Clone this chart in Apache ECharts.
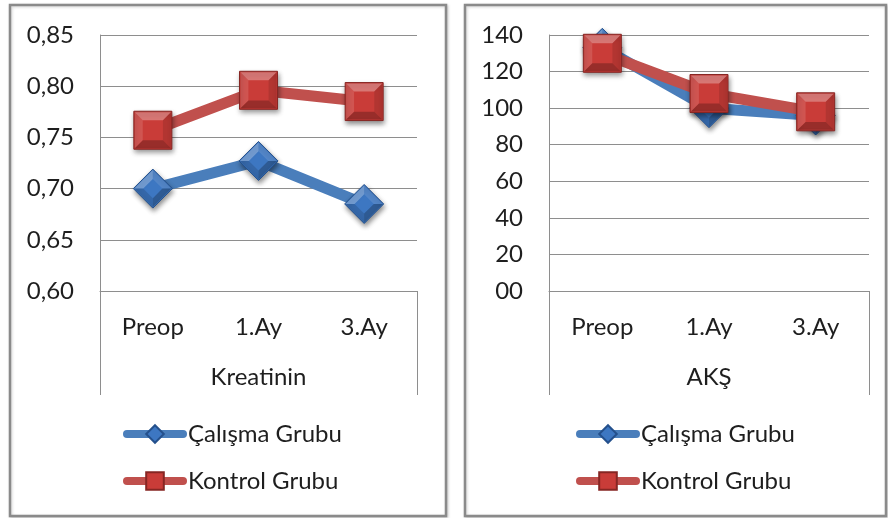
<!DOCTYPE html>
<html>
<head>
<meta charset="utf-8">
<script src="https://cdn.jsdelivr.net/npm/echarts@6/dist/echarts.min.js"></script>
<style>
  html, body { margin: 0; padding: 0; background: #ffffff; }
  #chart { width: 888px; height: 518px; }
</style>
</head>
<body>
<div id="chart"></div>
<script>
// Categories and group names
const categories = ['Preop', '1.Ay', '3.Ay'];
const groupNames = ['Çalışma Grubu', 'Kontrol Grubu'];

// Kreatinin values
const kreatininCalisma = [0.700, 0.727, 0.685];
const kreatininKontrol = [0.757, 0.796, 0.785];

// AKŞ values
const aksCalisma = [133, 100, 96];
const aksKontrol = [130, 108, 98];

// Axis titles and tick labels
const panelTitles = ['Kreatinin', 'AKŞ'];
const kreatininTicks = ['0,60', '0,65', '0,70', '0,75', '0,80', '0,85'];
const aksTicks = ['00', '20', '40', '60', '80', '100', '120', '140'];

const FONT = 'Lato';
const FONT_SIZE = 24;
const TEXT = '#1e1e1e';
const GRID_LINE = '#8e8e8e';

const BLUE_LINE = '#4a7ebb';
const RED_LINE = '#c0504d';

// Bevel facets (each path padded to the full 0..100 box so it scales like the base symbol)
const PAD = ' M0,100 L100,100 L0,100 Z M100,0 L100,0 Z';
const squareFacets = [
  { path: 'path://M0,0 L100,0 L78,22 L22,22 Z' + PAD, color: 'rgba(255,255,255,0.38)' },
  { path: 'path://M0,0 L22,22 L22,78 L0,100 Z' + PAD, color: 'rgba(255,255,255,0.16)' },
  { path: 'path://M100,0 L100,100 L78,78 L78,22 Z' + PAD, color: 'rgba(0,0,0,0.14)' },
  { path: 'path://M0,100 L22,78 L78,78 L100,100 Z' + PAD, color: 'rgba(0,0,0,0.30)' }
];
const diamondFacets = [
  { path: 'path://M0,50 L50,0 L50,24 L24,50 Z' + PAD, color: 'rgba(255,255,255,0.34)' },
  { path: 'path://M50,0 L100,50 L76,50 L50,24 Z' + PAD, color: 'rgba(255,255,255,0.14)' },
  { path: 'path://M100,50 L50,100 L50,76 L76,50 Z' + PAD, color: 'rgba(0,0,0,0.30)' },
  { path: 'path://M50,100 L0,50 L24,50 L50,76 Z' + PAD, color: 'rgba(0,0,0,0.16)' }
];

const groupStyles = [
  { line: BLUE_LINE, fill: '#3d77c2', border: '#24508c', symbol: 'diamond', size: 39, facets: diamondFacets },
  { line: RED_LINE, fill: '#c93c38', border: '#862623', symbol: 'rect', size: 38, facets: squareFacets }
];

const panels = [
  { values: [kreatininCalisma, kreatininKontrol], ticks: kreatininTicks, min: 0.60, max: 0.85, interval: 0.05 },
  { values: [aksCalisma, aksKontrol], ticks: aksTicks, min: 0, max: 140, interval: 20 }
];

const gridBoxes = [
  { left: 100, top: 35, width: 317, height: 256 },
  { left: 549, top: 35, width: 320, height: 256 }
];

const xAxes = [];
const yAxes = [];
const series = [];

panels.forEach(function (panel, p) {
  // inner category axis
  xAxes.push({
    type: 'category', gridIndex: p, data: categories, boundaryGap: true,
    axisLine: { show: true, lineStyle: { color: GRID_LINE, width: 1 } },
    axisTick: { show: false },
    axisLabel: { color: TEXT, fontFamily: FONT, fontSize: FONT_SIZE, lineHeight: 24, margin: 24 }
  });
  // outer category level carrying the panel title and its divider lines
  xAxes.push({
    type: 'category', gridIndex: p, data: [panelTitles[p]], boundaryGap: true, position: 'bottom',
    axisLine: { show: false },
    axisTick: { show: true, alignWithLabel: false, length: 104, lineStyle: { color: GRID_LINE, width: 1 } },
    axisLabel: { color: TEXT, fontFamily: FONT, fontSize: FONT_SIZE, lineHeight: 24, margin: 74 }
  });
  yAxes.push({
    type: 'value', gridIndex: p, min: panel.min, max: panel.max, interval: panel.interval,
    axisLine: { show: true, lineStyle: { color: GRID_LINE, width: 1 } },
    axisTick: { show: false },
    splitLine: { show: true, lineStyle: { color: GRID_LINE, width: 1 } },
    axisLabel: {
      color: TEXT, fontFamily: FONT, fontSize: FONT_SIZE, margin: 26,
      formatter: function (v, i) { return panel.ticks[i]; }
    }
  });

  panel.values.forEach(function (vals, g) {
    const st = groupStyles[g];
    const baseZ = 2 + g * 2;
    series.push({
      name: groupNames[g], type: 'line', xAxisIndex: p * 2, yAxisIndex: p,
      data: vals, z: baseZ,
      symbol: st.symbol, symbolSize: st.size,
      lineStyle: { color: st.line, width: 11, cap: 'round', join: 'round' },
      itemStyle: {
        color: st.fill, borderColor: st.border, borderWidth: 1,
        shadowColor: 'rgba(0,0,0,0.45)', shadowBlur: 5, shadowOffsetX: 1, shadowOffsetY: 3
      },
      emphasis: { disabled: true },
      animation: false
    });
    st.facets.forEach(function (f, k) {
      series.push({
        name: groupNames[g] + ' facet ' + k, type: 'scatter', xAxisIndex: p * 2, yAxisIndex: p,
        data: vals, z: baseZ + 1,
        symbol: f.path, symbolSize: st.size - 2,
        itemStyle: { color: f.color, borderWidth: 0 },
        emphasis: { disabled: true }, silent: true, animation: false
      });
    });
  });
});

const legends = [
  { left: 118, top: 417 },
  { left: 571, top: 417 }
].map(function (pos) {
  return {
    data: groupNames, orient: 'vertical', left: pos.left, top: pos.top,
    itemWidth: 56, itemHeight: 22, itemGap: 23,
    lineStyle: { width: 8, cap: 'round' },
    textStyle: { color: TEXT, fontFamily: FONT, fontSize: FONT_SIZE, lineHeight: 22 },
    selectedMode: false
  };
});

// Panel frames
const frames = [
  { x: 10, y: 5, width: 436, height: 511 },
  { x: 465, y: 5, width: 421, height: 511 }
].map(function (r) {
  return {
    type: 'rect', shape: r, z: -1, silent: true,
    style: { fill: '#ffffff', stroke: '#8a8a8a', lineWidth: 2.5,
      shadowColor: 'rgba(0,0,0,0.18)', shadowBlur: 3, shadowOffsetX: 1, shadowOffsetY: 1 }
  };
});

const chart = echarts.init(document.getElementById('chart'), null, { renderer: 'canvas' });
chart.setOption({
  backgroundColor: '#ffffff',
  animation: false,
  graphic: frames,
  grid: gridBoxes.map(function (b) { return Object.assign({ containLabel: false }, b); }),
  xAxis: xAxes,
  yAxis: yAxes,
  legend: legends,
  series: series
});
</script>
</body>
</html>
